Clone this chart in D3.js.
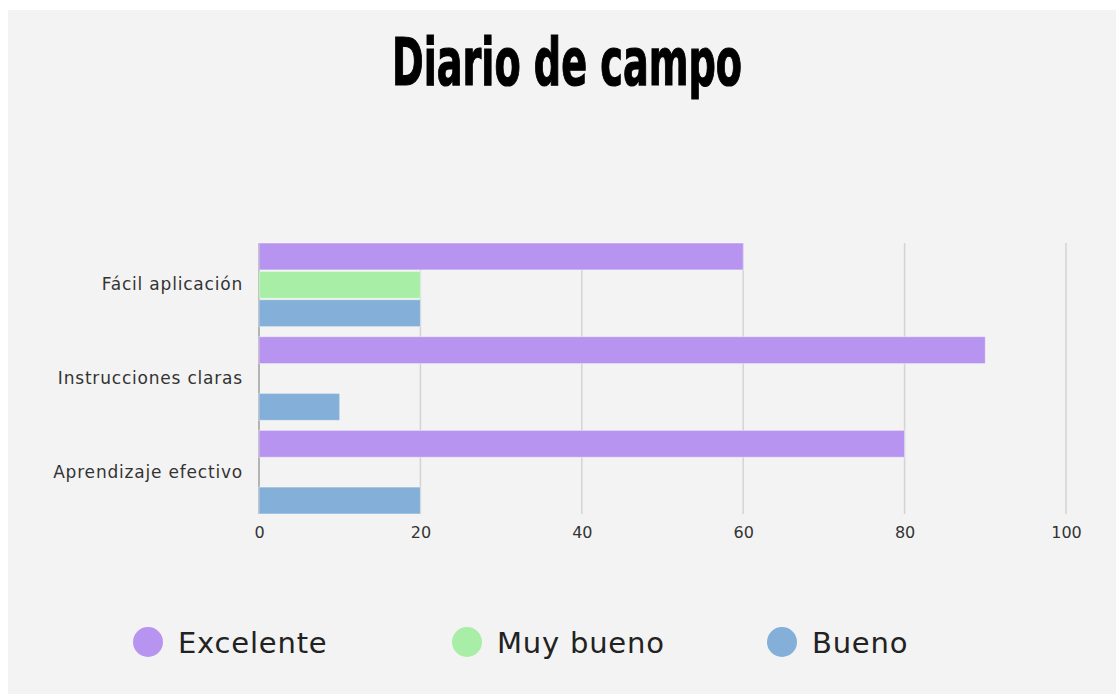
<!DOCTYPE html>
<html>
<head>
<meta charset="utf-8">
<script src="https://cdn.jsdelivr.net/npm/d3@7"></script>
<style>
  html, body { margin: 0; padding: 0; background: #ffffff; }
  svg { display: block; }
</style>
</head>
<body>
<svg id="chart" width="1116" height="694"></svg>
<script>
const categories = ["Fácil aplicación", "Instrucciones claras", "Aprendizaje efectivo"];
const seriesNames = ["Excelente", "Muy bueno", "Bueno"];
const excelente = [60, 90, 80];
const muyBueno = [20, 0, 0];
const bueno = [20, 10, 20];
const xTicks = [0, 20, 40, 60, 80, 100];
const colors = ["#b794ef", "#a8eea6", "#83afd8"];

const seriesValues = [excelente, muyBueno, bueno];
const svg = d3.select("#chart");
const labelFont = "'DejaVu Sans', 'Noto Sans', sans-serif";

svg.append("rect").attr("x", 8).attr("y", 10).attr("width", 1108).attr("height", 684).attr("fill", "#f3f3f3");

svg.append("text")
  .attr("x", 567).attr("y", 85)
  .attr("text-anchor", "middle")
  .attr("font-family", "'Liberation Sans Narrow', 'DejaVu Sans Condensed', sans-serif")
  .attr("font-weight", "bold")
  .attr("font-size", 66)
  .attr("textLength", 350)
  .attr("lengthAdjust", "spacingAndGlyphs")
  .attr("fill", "#000")
  .attr("stroke", "#000")
  .attr("stroke-width", 1.2)
  .text("Diario de campo");

const x = d3.scaleLinear().domain([0, 100]).range([259, 1066]);
const y0 = d3.scaleBand().domain(categories).range([243, 514]).paddingInner(0.107).paddingOuter(0);
const y1 = d3.scaleBand().domain(seriesNames).range([0, y0.bandwidth()]).paddingInner(0.05).paddingOuter(0);

// gridlines
svg.append("g").selectAll("line").data(xTicks.filter(d => d > 0)).join("line")
  .attr("x1", d => x(d)).attr("x2", d => x(d))
  .attr("y1", 243).attr("y2", 514)
  .attr("stroke", "#d3d3d3").attr("stroke-width", 1.5);

// axis at zero
svg.append("line").attr("x1", x(0)).attr("x2", x(0)).attr("y1", 243).attr("y2", 514)
  .attr("stroke", "#8a8a8a").attr("stroke-width", 1.2);

// bars
const rows = [];
categories.forEach((c, i) => seriesNames.forEach((s, j) => rows.push({c, s, j, v: seriesValues[j][i]})));
svg.append("g").selectAll("rect").data(rows.filter(d => d.v > 0)).join("rect")
  .attr("x", x(0))
  .attr("y", d => y0(d.c) + y1(d.s))
  .attr("width", d => x(d.v) - x(0))
  .attr("height", y1.bandwidth())
  .attr("fill", d => colors[d.j])
  .attr("stroke", "rgba(255,255,255,0.45)")
  .attr("stroke-width", 1);

// x axis labels
const xAxis = d3.axisBottom(x).tickValues(xTicks).tickSize(0).tickPadding(13);
const gx = svg.append("g").attr("transform", "translate(0,514)").call(xAxis);
gx.select(".domain").remove();
gx.selectAll("text")
  .attr("font-family", labelFont)
  .attr("font-size", 16)
  .attr("fill", "#333");

// y axis labels
const yAxis = d3.axisLeft(y0).tickSize(0).tickPadding(16);
const gy = svg.append("g").attr("transform", "translate(259,0)").call(yAxis);
gy.select(".domain").remove();
gy.selectAll("text")
  .attr("font-family", labelFont)
  .attr("font-size", 17)
  .attr("letter-spacing", "0.8px")
  .attr("fill", "#333");

// legend
const legendX = [148, 467, 782];
const lg = svg.append("g").selectAll("g").data(seriesNames).join("g")
  .attr("transform", (d, i) => `translate(${legendX[i]},642)`);
lg.append("circle").attr("r", 15).attr("fill", (d, i) => colors[i]);
lg.append("text")
  .attr("x", 30).attr("y", 11)
  .attr("font-family", labelFont)
  .attr("font-size", 29)
  .attr("letter-spacing", "0.8px")
  .attr("fill", "#222")
  .text(d => d);
</script>
</body>
</html>
